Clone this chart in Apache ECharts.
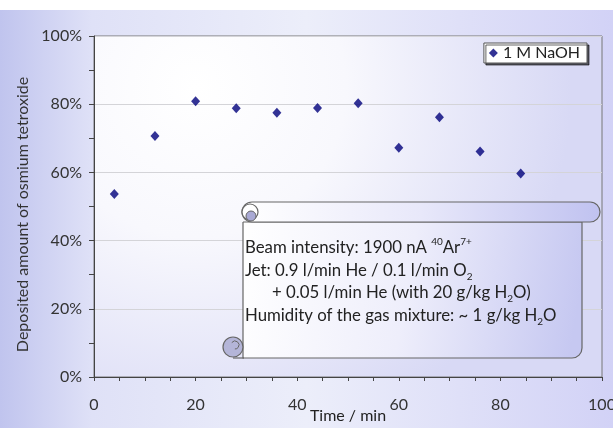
<!DOCTYPE html>
<html>
<head>
<meta charset="utf-8">
<script src="https://cdn.jsdelivr.net/npm/echarts@6/dist/echarts.min.js"></script>
<style>
  html, body { margin: 0; padding: 0; background: #fff; }
  #chart { width: 613px; height: 428px; }
</style>
</head>
<body>
<div id="chart"></div>
<script>
var times = [4, 12, 20, 28, 36, 44, 52, 60, 68, 76, 84];
var deposited = [53.7, 70.7, 80.9, 78.8, 77.5, 78.9, 80.3, 67.2, 76.2, 66.1, 59.7];
var seriesName = '1 M NaOH';
var noteLines = [
	'{t|Beam intensity: 1900 nA }{sup|40}{t|Ar}{sup|7+}',
	'{t|Jet: 0.9 l/min He / 0.1 l/min O}{sub|2}',
	'{t|+ 0.05 l/min He (with 20 g/kg H}{sub|2}{t|O)}',
	'{t|Humidity of the gas mixture: ~ 1 g/kg H}{sub|2}{t|O}'
];

var font = 'Lato, "Noto Sans", sans-serif';
var points = [];
for (var i = 0; i < times.length; i++) points.push([times[i], deposited[i]]);

function linear(x2, y2, stops) {
	return { type: 'linear', x: 0, y: 0, x2: x2, y2: y2, colorStops: stops };
}

function noteText(txt, x, y) {
	return {
		type: 'text', x: x, y: y, z: 30,
		style: {
			text: txt, verticalAlign: 'middle',
			rich: {
				t: { fontFamily: font, fontSize: 16.8, lineHeight: 22, fill: '#222' },
				sup: { fontFamily: font, fontSize: 10, lineHeight: 12, verticalAlign: 'top', fill: '#222' },
				sub: { fontFamily: font, fontSize: 10, lineHeight: 12, verticalAlign: 'bottom', fill: '#222' }
			}
		}
	};
}

var myChart = echarts.init(document.getElementById('chart'));
var option = {
	backgroundColor: linear(1, 0, [
		{ offset: 0, color: '#c0c4ee' },
		{ offset: 0.15, color: '#dfe1f7' },
		{ offset: 0.5, color: '#eceefa' },
		{ offset: 1, color: '#d2d2f6' }
	]),
	animation: false,
	grid: {
		left: 94, right: 11, top: 36, bottom: 51,
		outerBoundsMode: 'none',
		show: true, borderColor: '#777', borderWidth: 1,
		backgroundColor: { type: 'radial', x: 0.2, y: 0.15, r: 1.1, colorStops: [
			{ offset: 0, color: '#ffffff' },
			{ offset: 0.4, color: '#f8f8fd' },
			{ offset: 1, color: '#d8d9f5' }
		] }
	},
	legend: {
		right: 26, top: 43,
		padding: [2, 7, 2, 5],
		backgroundColor: '#fff',
		borderColor: '#555', borderWidth: 1,
		shadowColor: 'rgba(0,0,0,0.6)', shadowOffsetX: 2, shadowOffsetY: 2, shadowBlur: 0,
		itemWidth: 9, itemHeight: 9, itemGap: 5,
		textStyle: { fontFamily: font, fontSize: 16, color: '#222' },
		data: [{ name: seriesName, icon: 'diamond' }]
	},
	xAxis: {
		type: 'value', min: 0, max: 100, interval: 20,
		name: 'Time / min', nameLocation: 'middle', nameGap: 31, nameMoveOverlap: false,
		nameTextStyle: { fontFamily: font, fontSize: 16, color: '#222' },
		axisLine: { show: true, lineStyle: { color: '#444', width: 1 } },
		axisTick: { show: true, length: 4, lineStyle: { color: '#444' } },
		minorTick: { show: true, splitNumber: 4, length: 4, lineStyle: { color: '#444' } },
		axisLabel: { fontFamily: font, fontSize: 16, color: '#333', margin: 20 },
		splitLine: { show: false }
	},
	yAxis: {
		type: 'value', min: 0, max: 100, interval: 20,
		name: 'Deposited amount of osmium tetroxide', nameLocation: 'middle', nameGap: 63,
		nameTextStyle: { fontFamily: font, fontSize: 16, color: '#333', padding: [0, 16, 0, 0] },
		axisLine: { show: true, lineStyle: { color: '#444', width: 1 } },
		axisTick: { show: true, length: 5, lineStyle: { color: '#444' } },
		minorTick: { show: true, splitNumber: 2, length: 5, lineStyle: { color: '#444' } },
		axisLabel: { fontFamily: font, fontSize: 16, color: '#333', margin: 12, formatter: '{value}%' },
		splitLine: { show: true, lineStyle: { color: '#d4d4d8', width: 1 } }
	},
	series: [{
		name: seriesName, type: 'scatter', data: points,
		symbol: 'diamond', symbolSize: [9, 10],
		itemStyle: { color: '#00007a' }
	}],
	graphic: [
		{ type: 'rect', shape: { x: 0, y: 0, width: 613, height: 10 }, style: { fill: '#fff' }, z: 1 },
		// scroll body
		{ type: 'rect', z: 20,
			shape: { x: 243, y: 222, width: 339, height: 136, r: [0, 0, 10, 0] },
			style: {
				fill: linear(1, 0.4, [
					{ offset: 0, color: '#ffffff' },
					{ offset: 0.5, color: '#eeeefb' },
					{ offset: 1, color: '#c6c8f1' }
				]),
				stroke: '#666', lineWidth: 1.2
			}
		},
		{ type: 'line', z: 21, shape: { x1: 233, y1: 358, x2: 244, y2: 358 }, style: { stroke: '#666', lineWidth: 1.2 } },
		// bottom curl
		{ type: 'circle', z: 22, shape: { cx: 233, cy: 347, r: 10 }, style: { fill: '#b4b5d8', stroke: '#666', lineWidth: 1.2 } },
		{ type: 'arc', z: 23, shape: { cx: 235, cy: 345, r: 4, startAngle: -2.5, endAngle: 1.6 }, style: { fill: null, stroke: '#666', lineWidth: 1 } },
		// top roll
		{ type: 'rect', z: 24, shape: { x: 242, y: 202, width: 358, height: 20, r: 10 },
			style: {
				fill: linear(1, 0, [
					{ offset: 0, color: '#ffffff' },
					{ offset: 0.5, color: '#e8e8fa' },
					{ offset: 1, color: '#c0c2f0' }
				]),
				stroke: '#666', lineWidth: 1.2
			}
		},
		{ type: 'circle', z: 25, shape: { cx: 250, cy: 212, r: 8 }, style: { fill: '#fff', stroke: '#666', lineWidth: 1.2 } },
		{ type: 'circle', z: 26, shape: { cx: 251, cy: 216, r: 5 }, style: { fill: '#a9a9d4', stroke: '#666', lineWidth: 1 } },
		noteText(noteLines[0], 245, 248),
		noteText(noteLines[1], 245, 271),
		noteText(noteLines[2], 272, 293),
		noteText(noteLines[3], 245, 316)
	]
};
myChart.setOption(option);
</script>
</body>
</html>
